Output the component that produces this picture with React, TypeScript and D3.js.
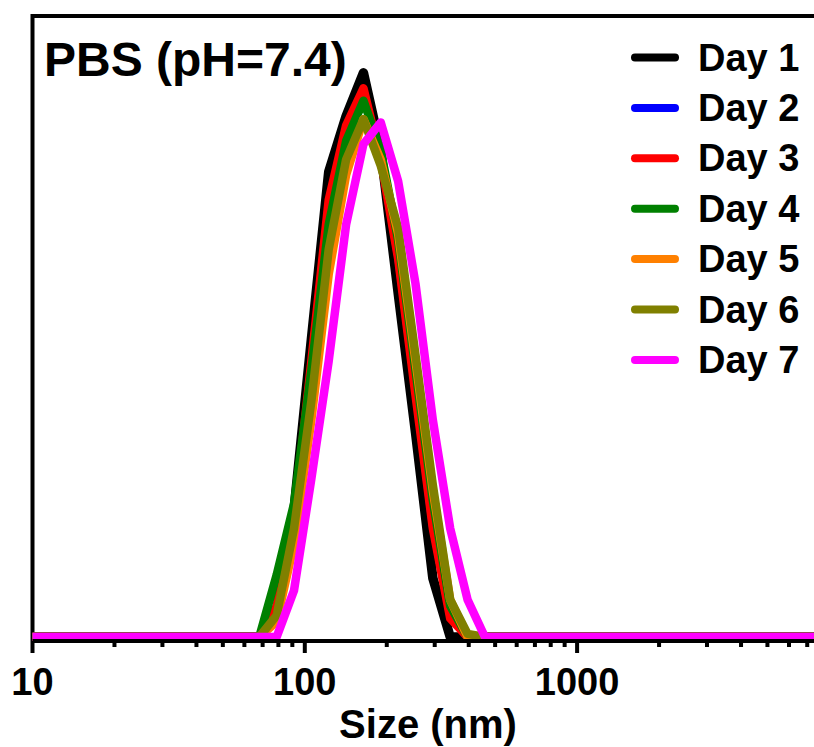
import * as d3 from 'd3';
import React, { useEffect, useRef } from 'react';

// DLS size bins (nm) and intensity (%) for each day
const sizes = [10, 68.06, 78.82, 91.28, 105.7, 122.4, 141.8, 164.2, 190.1, 220.2, 255.0, 295.3, 342.0, 396.1, 458.7, 531.2, 10000];

const day1 = [0, 0, 0.7, 4.1, 9.6, 15.0, 16.8, 18.2, 15.7, 11.1, 6.6, 1.9, 0, 0, 0, 0, 0];
const day2 = [0, 0, 0.9, 3.7, 8.7, 13.9, 16.4, 17.5, 15.5, 12.3, 8.0, 3.6, 0.7, 0, 0, 0, 0];
const day3 = [0, 0, 1.0, 3.8, 8.9, 14.1, 16.5, 17.7, 15.4, 12.2, 7.8, 3.5, 0.6, 0, 0, 0, 0];
const day4 = [0, 0, 2.0, 4.3, 8.6, 13.3, 16.0, 17.3, 15.7, 12.8, 8.6, 4.4, 1.0, 0, 0, 0, 0];
const day5 = [0, 0, 0.5, 3.0, 7.0, 11.7, 14.9, 16.7, 15.4, 13.0, 8.9, 4.7, 1.2, 0, 0, 0, 0];
const day6 = [0, 0, 0.7, 3.5, 7.6, 12.5, 15.4, 16.7, 15.2, 13.2, 9.1, 4.9, 1.2, 0.1, 0, 0, 0];
const day7 = [0, 0, 0, 1.5, 5.1, 8.9, 13.3, 15.9, 16.6, 14.7, 11.4, 7.0, 3.5, 1.2, 0, 0, 0];

const seriesNames = ['Day 1', 'Day 2', 'Day 3', 'Day 4', 'Day 5', 'Day 6', 'Day 7'];
const seriesValues = [day1, day2, day3, day4, day5, day6, day7];
const colors = ['#000000', '#0000ff', '#ff0000', '#008000', '#ff8000', '#808000', '#ff00ff'];

const tickLabels = ['10', '100', '1000'];

const FONT = '"Liberation Sans", Arial, sans-serif';

export default function App() {
  const ref = useRef<SVGSVGElement>(null);

  useEffect(() => {
    const svg = d3.select(ref.current);
    svg.selectAll('*').remove();

    const x = d3.scaleLog().domain([10, 10000]).range([32.5, 849.4]);
    const y = d3.scaleLinear().domain([0, 20]).range([637, 17]);
    const axisY = 641;

    // frame
    svg
      .append('path')
      .attr('d', `M32.5,${axisY} V16 H${x(10000)} V${axisY}`)
      .attr('fill', 'none')
      .attr('stroke', '#000')
      .attr('stroke-width', 4);

    // curves
    const line = d3
      .line<number>()
      .x((d, i) => x(sizes[i]))
      .y(d => y(d));

    svg
      .append('g')
      .attr('class', 'curves')
      .selectAll('path')
      .data(seriesValues)
      .enter()
      .append('path')
      .attr('d', d => line(d))
      .attr('fill', 'none')
      .attr('stroke', (d, i) => colors[i])
      .attr('stroke-width', (d, i) => (i === 0 ? 9.5 : 8.5))
      .attr('stroke-linejoin', 'round');

    // x axis
    svg
      .append('line')
      .attr('x1', 32.5)
      .attr('x2', x(10000))
      .attr('y1', axisY)
      .attr('y2', axisY)
      .attr('stroke', '#000')
      .attr('stroke-width', 4);

    const ticks = x.ticks();
    svg
      .append('g')
      .attr('class', 'ticks')
      .selectAll('line')
      .data(ticks)
      .enter()
      .append('line')
      .attr('x1', d => x(d))
      .attr('x2', d => x(d))
      .attr('y1', axisY)
      .attr('y2', d => (Math.log10(d) % 1 === 0 ? axisY + 12 : axisY + 6))
      .attr('stroke', '#000')
      .attr('stroke-width', 4);

    svg
      .append('g')
      .attr('class', 'tick-labels')
      .selectAll('text')
      .data(tickLabels)
      .enter()
      .append('text')
      .attr('x', d => x(+d))
      .attr('y', 695)
      .attr('text-anchor', 'middle')
      .attr('font-family', FONT)
      .attr('font-weight', 'bold')
      .attr('font-size', 38)
      .text(d => d);

    svg
      .append('text')
      .attr('x', 428)
      .attr('y', 738)
      .attr('text-anchor', 'middle')
      .attr('font-family', FONT)
      .attr('font-weight', 'bold')
      .attr('font-size', 40)
      .text('Size (nm)');

    svg
      .append('text')
      .attr('x', 44)
      .attr('y', 76)
      .attr('font-family', FONT)
      .attr('font-weight', 'bold')
      .attr('font-size', 48)
      .text('PBS (pH=7.4)');

    // legend
    const legendItem = svg
      .append('g')
      .attr('class', 'legend')
      .selectAll('g')
      .data(seriesNames)
      .enter()
      .append('g')
      .attr('transform', (d, i) => 'translate(0,' + (57.5 + i * 50.4) + ')');

    legendItem
      .append('line')
      .attr('x1', 635)
      .attr('x2', 675)
      .attr('stroke', (d, i) => colors[i])
      .attr('stroke-width', 8)
      .attr('stroke-linecap', 'round');

    legendItem
      .append('text')
      .attr('x', 698)
      .attr('y', 13)
      .attr('font-family', FONT)
      .attr('font-weight', 'bold')
      .attr('font-size', 38)
      .text(d => d);
  }, []);

  return (
    <svg
      ref={ref}
      width={814}
      height={747}
      style={{ position: 'absolute', left: 0, top: 0, background: '#fff' }}
    />
  );
}
